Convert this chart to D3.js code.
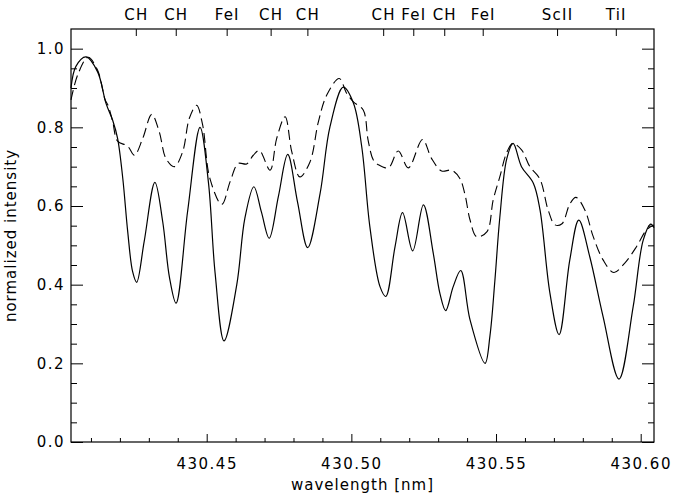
<!DOCTYPE html>
<html>
<head>
<meta charset="utf-8">
<script src="https://cdn.jsdelivr.net/npm/d3@7"></script>
<style>
  body { margin: 0; background: #fff; }
  text { font-family: "DejaVu Sans", sans-serif; fill: #000; }
</style>
</head>
<body>
<div id="chart"></div>
<script>
// observed profile (solid)
const wlSolid = [430.4031, 430.4048, 430.4083, 430.4123, 430.4152, 430.4175, 430.4192, 430.4210, 430.4227, 430.4244,
    430.4258, 430.4284, 430.4321, 430.4348, 430.4371, 430.4394, 430.4434, 430.4477, 430.4506, 430.4529,
    430.4560, 430.4604, 430.4632, 430.4663, 430.4689, 430.4716, 430.4748, 430.4780, 430.4814, 430.4849,
    430.4892, 430.4926, 430.4972, 430.5007, 430.5036, 430.5064, 430.5099, 430.5119, 430.5151, 430.5177,
    430.5212, 430.5249, 430.5283, 430.5306, 430.5326, 430.5352, 430.5378, 430.5410, 430.5462, 430.5479,
    430.5496, 430.5513, 430.5537, 430.5559, 430.5588, 430.5629, 430.5652, 430.5686, 430.5718, 430.5755,
    430.5786, 430.5824, 430.5870, 430.5925, 430.5974, 430.6009, 430.6035, 430.6046];
const intSolid = [0.900, 0.955, 0.979, 0.941, 0.861, 0.818, 0.772, 0.670, 0.535, 0.433,
    0.406, 0.510, 0.660, 0.560, 0.420, 0.353, 0.586, 0.800, 0.660, 0.430,
    0.257, 0.400, 0.569, 0.649, 0.585, 0.518, 0.625, 0.731, 0.610, 0.494,
    0.632, 0.801, 0.902, 0.862, 0.750, 0.547, 0.395, 0.370, 0.497, 0.583,
    0.486, 0.603, 0.480, 0.378, 0.334, 0.395, 0.436, 0.311, 0.200, 0.270,
    0.410, 0.570, 0.720, 0.759, 0.700, 0.658, 0.590, 0.380, 0.273, 0.463,
    0.564, 0.471, 0.319, 0.160, 0.344, 0.514, 0.554, 0.545];

// reference profile (dashed)
const wlDash = [430.4031, 430.4055, 430.4090, 430.4123, 430.4149, 430.4159, 430.4175, 430.4192, 430.4227, 430.4250,
    430.4279, 430.4310, 430.4336, 430.4359, 430.4388, 430.4417, 430.4440, 430.4465, 430.4486, 430.4511,
    430.4552, 430.4581, 430.4609, 430.4638, 430.4661, 430.4682, 430.4719, 430.4742, 430.4771, 430.4794,
    430.4822, 430.4857, 430.4886, 430.4915, 430.4958, 430.4984, 430.5007, 430.5041, 430.5058, 430.5076,
    430.5093, 430.5128, 430.5162, 430.5197, 430.5246, 430.5277, 430.5312, 430.5347, 430.5375, 430.5393,
    430.5410, 430.5433, 430.5469, 430.5490, 430.5513, 430.5537, 430.5558, 430.5589, 430.5617, 430.5652,
    430.5680, 430.5704, 430.5728, 430.5755, 430.5776, 430.5807, 430.5836, 430.5870, 430.5907, 430.5945,
    430.5986, 430.6020, 430.6046];
const intDash = [0.870, 0.935, 0.978, 0.945, 0.870, 0.856, 0.815, 0.765, 0.752, 0.729,
    0.772, 0.833, 0.789, 0.721, 0.700, 0.738, 0.823, 0.856, 0.806, 0.670,
    0.604, 0.662, 0.708, 0.707, 0.729, 0.741, 0.691, 0.772, 0.827, 0.738,
    0.674, 0.712, 0.814, 0.882, 0.924, 0.886, 0.865, 0.844, 0.767, 0.717,
    0.705, 0.697, 0.740, 0.697, 0.769, 0.721, 0.689, 0.691, 0.670, 0.628,
    0.565, 0.522, 0.535, 0.615, 0.674, 0.736, 0.759, 0.742, 0.700, 0.668,
    0.590, 0.552, 0.555, 0.605, 0.622, 0.590, 0.522, 0.463, 0.431, 0.455,
    0.497, 0.539, 0.552];

// line identifications on the top axis
const lineLabels = ["CH", "CH", "FeI", "CH", "CH", "CH", "FeI", "CH", "FeI", "ScII", "TiI"];
const lineWl = [430.4255, 430.4393, 430.4569, 430.4721, 430.4848, 430.5110, 430.5214, 430.5321, 430.5454, 430.5711, 430.5914];

const xMajor = [430.45, 430.50, 430.55, 430.60];
const yMajor = [0.0, 0.2, 0.4, 0.6, 0.8, 1.0];

const margin = {top: 29, right: 19, bottom: 55, left: 71};
const width = 673 - margin.left - margin.right;
const height = 497 - margin.top - margin.bottom;

const svg = d3.select("#chart").append("svg")
    .attr("width", 673)
    .attr("height", 497)
    .append("g")
    .attr("transform", `translate(${margin.left}, ${margin.top})`);

const x = d3.scaleLinear().domain([430.4031, 430.6046]).range([0, width]);
const y = d3.scaleLinear().domain([0, 1.05]).range([height, 0]);

const xMinor = d3.range(430.41, 430.605, 0.01).filter(v => !xMajor.some(m => Math.abs(m - v) < 1e-6));
const yMinor = d3.range(0.05, 1.05, 0.05).filter(v => !yMajor.some(m => Math.abs(m - v) < 1e-6));

function styleAxis(g) {
    g.select(".domain").remove();
    g.selectAll("line").attr("stroke", "#000").attr("stroke-width", 1);
    g.selectAll("text")
        .style("font-size", "15px")
        .style("letter-spacing", "1.5px");
}

// bottom axis
svg.append("g").attr("transform", `translate(0,${height})`)
    .call(d3.axisBottom(x).tickValues(xMajor).tickSize(-8).tickPadding(16).tickFormat(d3.format(".2f")))
    .call(styleAxis);
svg.append("g").attr("transform", `translate(0,${height})`)
    .call(d3.axisBottom(x).tickValues(xMinor).tickSize(-4).tickFormat(""))
    .call(styleAxis);

// left axis
svg.append("g")
    .call(d3.axisLeft(y).tickValues(yMajor).tickSize(-12).tickPadding(6).tickFormat(d3.format(".1f")))
    .call(styleAxis);
svg.append("g")
    .call(d3.axisLeft(y).tickValues(yMinor).tickSize(-6).tickFormat(""))
    .call(styleAxis);

// right axis
svg.append("g").attr("transform", `translate(${width},0)`)
    .call(d3.axisRight(y).tickValues(yMajor).tickSize(-12).tickFormat(""))
    .call(styleAxis);
svg.append("g").attr("transform", `translate(${width},0)`)
    .call(d3.axisRight(y).tickValues(yMinor).tickSize(-6).tickFormat(""))
    .call(styleAxis);

// top axis with line markers
svg.append("g")
    .call(d3.axisTop(x).tickValues(lineWl).tickSize(-7).tickPadding(9).tickFormat((d, i) => lineLabels[i]))
    .call(styleAxis)
    .selectAll("text")
    .style("font-size", "15px")
    .style("letter-spacing", "1.2px");

// frame
svg.append("rect")
    .attr("width", width)
    .attr("height", height)
    .attr("fill", "none")
    .attr("stroke", "#000")
    .attr("stroke-width", 1.2);

const lineGen = d3.line()
    .x(d => x(d[0]))
    .y(d => y(d[1]))
    .curve(d3.curveCatmullRom.alpha(0.5));

svg.append("path")
    .datum(d3.zip(wlDash, intDash))
    .attr("fill", "none")
    .attr("stroke", "#000")
    .attr("stroke-width", 1.1)
    .attr("stroke-dasharray", "10,5")
    .attr("d", lineGen);

svg.append("path")
    .datum(d3.zip(wlSolid, intSolid))
    .attr("fill", "none")
    .attr("stroke", "#000")
    .attr("stroke-width", 1.2)
    .attr("d", lineGen);

// axis titles
svg.append("text")
    .attr("x", width / 2)
    .attr("y", height + 48)
    .attr("text-anchor", "middle")
    .style("font-size", "15px")
    .style("letter-spacing", "1px")
    .text("wavelength [nm]");

svg.append("text")
    .attr("transform", `translate(${-55},${height / 2}) rotate(-90)`)
    .attr("text-anchor", "middle")
    .style("font-size", "15px")
    .style("letter-spacing", "1px")
    .text("normalized intensity");
</script>
</body>
</html>
